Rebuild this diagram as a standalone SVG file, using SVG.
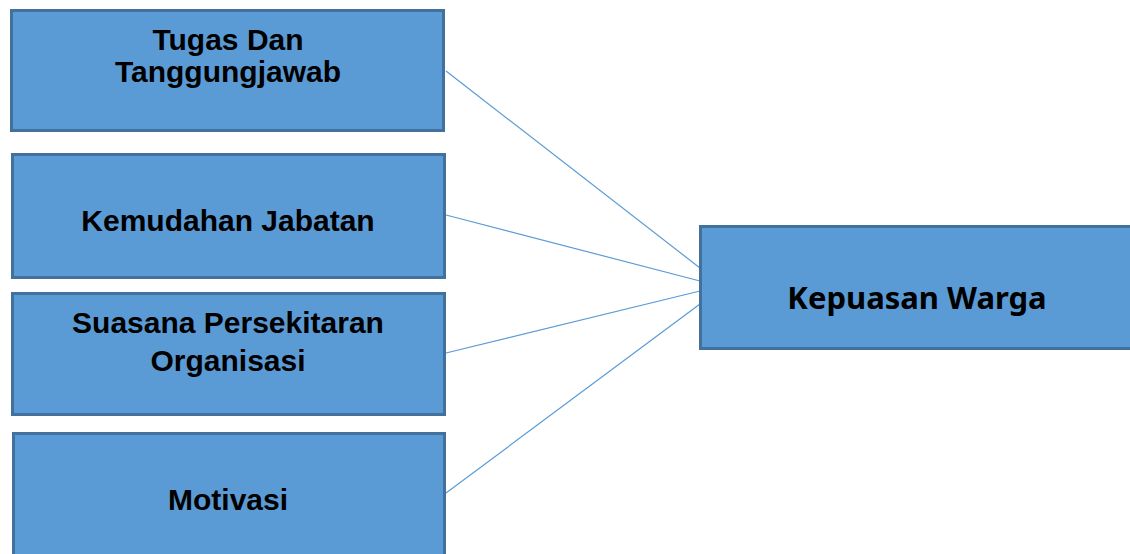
<svg xmlns="http://www.w3.org/2000/svg" width="1130" height="554" viewBox="0 0 1130 554">
<style>
.box{fill:#5b9bd5;stroke:#41719c;stroke-width:3}
.lbl{font-family:"Liberation Sans",Arial,sans-serif;font-weight:bold;font-size:30px;fill:#000;text-anchor:middle}
.lbl2{font-family:"Noto Sans","Open Sans",sans-serif;font-weight:bold;font-size:31px;fill:#000;text-anchor:middle}
.conn{stroke:#5b9bd5;stroke-width:1.2;fill:none}
</style>
<rect width="1130" height="554" fill="#fff"/>
<g id="connectors">
<line class="conn" x1="446" y1="71" x2="700" y2="268"/>
<line class="conn" x1="446" y1="215" x2="700" y2="281"/>
<line class="conn" x1="446" y1="353" x2="700" y2="291"/>
<line class="conn" x1="446" y1="493" x2="700" y2="304"/>
</g>
<g id="tugas">
<rect class="box" x="11.5" y="10.5" width="432" height="120"/>
<text class="lbl" x="228" y="50">Tugas Dan</text>
<text class="lbl" x="228" y="82">Tanggungjawab</text>
</g>
<g id="kemudahan">
<rect class="box" x="12.5" y="154.5" width="432" height="123"/>
<text class="lbl" x="228" y="231">Kemudahan Jabatan</text>
</g>
<g id="suasana">
<rect class="box" x="12.5" y="293.5" width="432" height="121"/>
<text class="lbl" x="228" y="333">Suasana Persekitaran</text>
<text class="lbl" x="228" y="371">Organisasi</text>
</g>
<g id="motivasi">
<rect class="box" x="13.5" y="433.5" width="431" height="130"/>
<text class="lbl" x="228" y="510">Motivasi</text>
</g>
<g id="kepuasan">
<rect class="box" x="700.5" y="226.5" width="440" height="122"/>
<text class="lbl2" x="917" y="309">Kepuasan Warga</text>
</g>
</svg>
